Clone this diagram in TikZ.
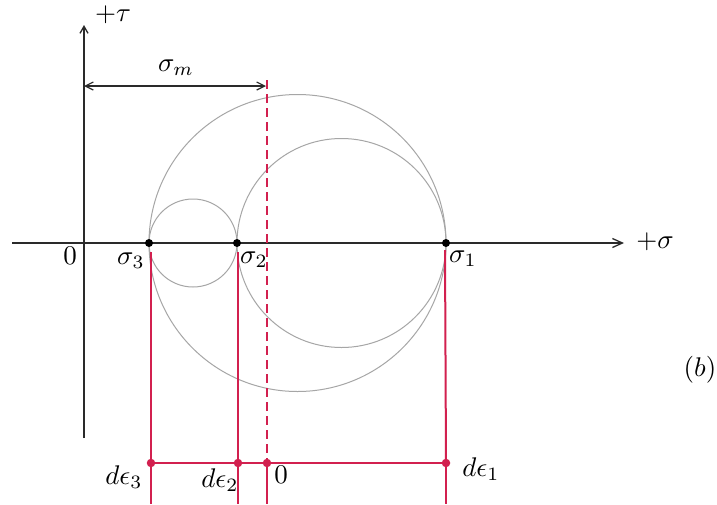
\documentclass[tikz,border=0pt]{standalone}
\usepackage{graphicx}
\usetikzlibrary{arrows.meta}
\definecolor{circgray}{HTML}{A6A6A6}
\definecolor{redln}{HTML}{D2204F}
\definecolor{axisc}{HTML}{2A2A2A}
\newcommand{\bigmath}[1]{\scalebox{2.7}{$#1$}}
\begin{document}
\begin{tikzpicture}[x=1pt,y=-1pt,
  circ/.style={draw=circgray, line width=1pt},
  axisline/.style={draw=axisc, line width=1.3pt},
  blackdot/.style={circle, fill=black, inner sep=0pt, minimum size=8pt},
  reddot/.style={circle, fill=redln, inner sep=0pt, minimum size=8.5pt},
  redthin/.style={draw=redln, line width=1.2pt},
  redthick/.style={draw=redln, line width=2.2pt},
  reddash/.style={draw=redln, line width=1.6pt, dash pattern=on 9pt off 5pt},
  lbl/.style={inner sep=1pt}]
\path[use as bounding box, fill=white] (0,0) rectangle (717,504);
% axes
\coordinate (ytop) at (84,25);
\coordinate (ybot) at (84,438);
\coordinate (xl) at (12,243);
\coordinate (xr) at (624,243);
\draw[axisline, -{Straight Barb[length=7pt,width=8pt]}] (ybot) -- (ytop);
\draw[axisline, -{Straight Barb[length=10pt,width=9pt]}] (xl) -- (xr);
% Mohr circles
\draw[circ] (193,243) circle[radius=44];
\draw[circ] (297.5,243) circle[radius=148.5];
\draw[circ] (341.5,243) circle[radius=104.5];
% principal stress points
\node[blackdot] (s3) at (149,243) {};
\node[blackdot] (s2) at (237,243) {};
\node[blackdot] (s1) at (446,243) {};
% strain increment line
\coordinate (v3t) at (151,252); \coordinate (v3b) at (151,504);
\coordinate (v2t) at (238,252); \coordinate (v2b) at (238,504);
\coordinate (v1t) at (445,250); \coordinate (v1b) at (446,504);
\coordinate (dtop) at (267,80); \coordinate (ob) at (267,504);
\coordinate (e3c) at (151,463); \coordinate (e2c) at (238,463);
\coordinate (oc) at (267,463); \coordinate (e1c) at (446,463);
\draw[redthin] (v3t) -- (e3c) -- (v3b);
\draw[redthin] (v2t) -- (e2c) -- (v2b);
\draw[redln, line width=2pt] (v1t) -- (e1c);
\draw[redthin] (e1c) -- (v1b);
\draw[reddash] (dtop) -- (oc);
\draw[redthin] (oc) -- (ob);
\draw[redthick] (e3c) -- (e2c) -- (oc) -- (e1c);
\node[reddot] (e3) at (e3c) {};
\node[reddot] (e2) at (e2c) {};
\node[reddot] (o) at (oc) {};
\node[reddot] (e1) at (e1c) {};
% sigma_m dimension
\coordinate (ml) at (84,86);
\coordinate (mr) at (266,86);
\draw[draw=axisc, line width=1.2pt, {Straight Barb[length=8pt,width=8pt]}-{Straight Barb[length=8pt,width=8pt]}] (ml) -- (mr);
% labels
\node[lbl] (ltau) at (113,15) {\bigmath{+\tau}};
\node[lbl] (lsig) at (655,242) {\bigmath{+\sigma}};
\node[lbl] (lsm) at (176,68) {\bigmath{\sigma_m}};
\node[lbl] (l0) at (70,256) {\bigmath{0}};
\node[lbl] (ls3) at (131,261) {\bigmath{\sigma_3}};
\node[lbl] (ls2) at (254,260) {\bigmath{\sigma_2}};
\node[lbl] (ls1) at (463,259) {\bigmath{\sigma_1}};
\node[lbl] (le3) at (124,477) {\bigmath{d\epsilon_3}};
\node[lbl] (le2) at (220,480) {\bigmath{d\epsilon_2}};
\node[lbl] (lo) at (281,475) {\bigmath{0}};
\node[lbl] (le1) at (481,469) {\bigmath{d\epsilon_1}};
\node[lbl] (lb) at (700,370) {\bigmath{(b)}};
\end{tikzpicture}
\end{document}
